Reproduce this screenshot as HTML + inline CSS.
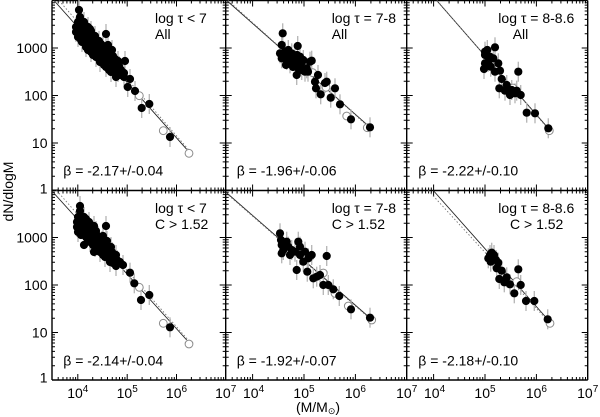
<!DOCTYPE html>
<html><head><meta charset="utf-8"><style>
html,body{margin:0;padding:0;background:#fff;}
body{width:600px;height:417px;overflow:hidden;}
svg{display:block;font-family:"Liberation Sans",Arial,sans-serif;}
</style></head><body>
<svg width="600" height="417" viewBox="0 0 600 417" xmlns="http://www.w3.org/2000/svg">
<defs>
<marker id="d" markerWidth="10" markerHeight="10" refX="5" refY="5" markerUnits="userSpaceOnUse"><circle cx="5" cy="5" r="4.1" fill="#000"/></marker>
<marker id="o" markerWidth="12" markerHeight="12" refX="6" refY="6" markerUnits="userSpaceOnUse"><circle cx="6" cy="6" r="3.9" fill="#fff" stroke="#8a8a8a" stroke-width="1"/></marker>
<marker id="e" markerWidth="4" markerHeight="26" refX="2" refY="13" markerUnits="userSpaceOnUse"><line x1="2" y1="3" x2="2" y2="23" stroke="#b4b4b4" stroke-width="1.3"/></marker>
<g id="yl"><path fill="none" stroke="#000" stroke-width="1" d="M0 0.5h6M0 48h6M0 95.5h6M0 143h6M0 190.5h6M0 2.7h3M0 5.1h3M0 7.9h3M0 11h3M0 14.8h3M0 19.4h3M0 25.3h3M0 33.7h3M0 50.2h3M0 52.6h3M0 55.4h3M0 58.5h3M0 62.3h3M0 66.9h3M0 72.8h3M0 81.2h3M0 97.7h3M0 100.1h3M0 102.9h3M0 106h3M0 109.8h3M0 114.4h3M0 120.3h3M0 128.7h3M0 145.2h3M0 147.6h3M0 150.4h3M0 153.5h3M0 157.3h3M0 161.9h3M0 167.8h3M0 176.2h3"/></g>
<g id="xa"><path fill="none" stroke="#000" stroke-width="1" d="M25.8 0v-6M75.2 0v-6M124.5 0v-6M6.2 0v-3M11 0v-3M14.9 0v-3M18.2 0v-3M21.1 0v-3M23.6 0v-3M40.7 0v-3M49.3 0v-3M55.5 0v-3M60.3 0v-3M64.2 0v-3M67.5 0v-3M70.4 0v-3M72.9 0v-3M90.1 0v-3M98.7 0v-3M104.9 0v-3M109.7 0v-3M113.6 0v-3M116.9 0v-3M119.8 0v-3M122.3 0v-3M139.4 0v-3M148 0v-3M154.2 0v-3M159 0v-3M162.9 0v-3M166.2 0v-3M169.1 0v-3M171.6 0v-3"/></g>
<g id="xb"><path fill="none" stroke="#000" stroke-width="1" d="M26.9 0v-6M78.3 0v-6M129.7 0v-6M6.5 0v-3M11.4 0v-3M15.5 0v-3M18.9 0v-3M21.9 0v-3M24.6 0v-3M42.4 0v-3M51.4 0v-3M57.9 0v-3M62.8 0v-3M66.9 0v-3M70.3 0v-3M73.3 0v-3M76 0v-3M93.8 0v-3M102.8 0v-3M109.3 0v-3M114.2 0v-3M118.3 0v-3M121.7 0v-3M124.7 0v-3M127.4 0v-3M145.2 0v-3M154.2 0v-3M160.7 0v-3M165.6 0v-3M169.7 0v-3M173.1 0v-3M176.1 0v-3M178.8 0v-3"/></g>
</defs>

<!-- frames -->
<g fill="none" stroke="#000" stroke-width="1.4">
<path d="M52 0.5H587.7M52 190.5H587.7M52 380H587.7M52 0.5V380M225.7 0.5V380M406.7 0.5V380M587.7 0.5V380"/>
</g>

<!-- y ticks -->
<use href="#yl" transform="translate(52,0)"/>
<use href="#yl" transform="translate(52,189.5)"/>
<use href="#yl" transform="translate(225.7,0) scale(-1,1)"/>
<use href="#yl" transform="translate(225.7,189.5) scale(-1,1)"/>
<use href="#yl" transform="translate(225.7,0)"/>
<use href="#yl" transform="translate(225.7,189.5)"/>
<use href="#yl" transform="translate(406.7,0) scale(-1,1)"/>
<use href="#yl" transform="translate(406.7,189.5) scale(-1,1)"/>
<use href="#yl" transform="translate(406.7,0)"/>
<use href="#yl" transform="translate(406.7,189.5)"/>
<use href="#yl" transform="translate(587.7,0) scale(-1,1)"/>
<use href="#yl" transform="translate(587.7,189.5) scale(-1,1)"/>

<!-- x ticks -->
<use href="#xa" transform="translate(52,380)"/>
<use href="#xa" transform="translate(52,190.5)"/>
<use href="#xa" transform="translate(52,190.5) scale(1,-1)"/>
<use href="#xa" transform="translate(52,0.5) scale(1,-1)"/>
<use href="#xb" transform="translate(225.7,380)"/>
<use href="#xb" transform="translate(225.7,190.5)"/>
<use href="#xb" transform="translate(225.7,190.5) scale(1,-1)"/>
<use href="#xb" transform="translate(225.7,0.5) scale(1,-1)"/>
<use href="#xb" transform="translate(406.7,380)"/>
<use href="#xb" transform="translate(406.7,190.5)"/>
<use href="#xb" transform="translate(406.7,190.5) scale(1,-1)"/>
<use href="#xb" transform="translate(406.7,0.5) scale(1,-1)"/>

<!-- fit lines -->
<g fill="none" stroke="#222" stroke-width="0.9">
<path d="M54 0.5L186.7 149.3M226.7 0.5L370 127.3M436.7 0.5L548.3 128.3M51.5 190.5L186.7 340M225.7 192L370 318M433.3 190.5L548.3 320"/>
</g>
<g fill="none" stroke="#777" stroke-width="0.9" stroke-dasharray="1.5 2">
<path d="M59 0.5L191.7 153.3M228 0.5L372 130M437 0.5L550 131M56.6 190.5L191.7 344M226 193L372 320.5M428.3 190.5L550 323.3"/>
</g>

<!-- error bars -->
<g fill="none" stroke="none" marker-start="url(#e)" marker-mid="url(#e)" marker-end="url(#e)">
<path d="M79 10L80 17L78 22L84 22L76 27L82 27L88 27L76 32L81 32L86 32L91 31L78 37L84 37L90 37L95 36L106 34L82 42L88 42L94 42L99 41L86 47L92 47L98 47L103 46L108 45L91 52L97 52L102 52L107 51L112 50L96 57L102 57L108 57L113 56L100 62L106 62L112 62L118 61L125 61L106 67L113 67L119 66L111 72L118 72L124 73L116 77L124 77L130 79L127.7 87L135 91L141.7 108L149.3 104L170 137"/>
<path d="M282.7 33.3L281.7 45L297.7 46L280 53.3L285 51.7L288.3 50L291.7 53.3L295 58.3L300 56.7L303.3 60L281.7 58.3L286.7 60L290 63.3L296.7 63.3L300 65L301.7 70L305 71.7L306.7 68.3L291.7 55L283.3 55L310 61.7L311.7 60.7L296.7 75L308 71.7L315 81.7L318 75L325 83L326.7 81.7L316 88.3L320.7 94.3L335 88.3L330.7 97.7L340 104.3L351 119.3L370 127.3"/>
<path d="M485 51.7L487.3 50L495 47.3L485 55L490 56.7L493.3 58.3L488.3 61.7L485 63.3L498.3 63.3L484 69L490.7 66.7L495 71.7L500 70.7L501.7 79L518.3 71.7L506.7 85L499.3 88.3L505 90.7L511.7 90L510 95L515 93.3L516.7 90.7L520.7 95L526.7 112.7L535 113.3L548.3 128.3"/>
<path d="M80 206L80 211L78 217L84 217L77 222L83 222L89 222L77 227L82 227L88 227L94 226L106 226L78 232L84 232L90 232L96 231L86 237L92 237L98 236L103 236L90 242L96 242L102 241L107 241L95 247L101 247L107 246L111 247L100 252L106 252L112 252L116 255L105 257L111 257L117 260L110 262L116 266L123 265L130 272.7L134.3 283.3L141 300L149.3 295L170 327.3"/>
<path d="M280 233.3L281 240L286.7 241.7L281.7 245L288.3 246.7L283.3 250L291.7 250L281.7 253.3L295 251.7L298.3 241.7L300 246.7L305 251.7L290 255L300 255L303.3 261.7L308.3 258.3L311.7 255L326.7 256L296.7 270L307.3 271.7L313.3 278.3L316.7 276.7L320 275L323.3 285L328.3 285L333.3 289.3L339.3 296L351 309.3L370 317.7"/>
<path d="M491.7 252.7L490 255L494 255L488.3 258.3L492.7 258.3L496 260L490.7 261.7L498.3 262.7L496.7 268.3L501.7 270.7L518.3 269.3L506.7 277.3L499.3 279L504.3 282.3L510 284.3L520.7 285L514.3 293.3L526 301L534.3 301L547.7 319.3"/>
</g>

<!-- open circles -->
<g fill="none" stroke="none" marker-start="url(#o)" marker-mid="url(#o)" marker-end="url(#o)">
<path d="M139.3 95.7L163.3 130.7L189 153.3"/>
<path d="M312.7 72.7L326 87.3L346.7 116L367.3 127.7"/>
<path d="M513 88L549.3 130.7"/>
<path d="M139.3 287.3L163.3 323.3L189 344"/>
<path d="M310 256.7L323.3 273L335 293.3L348.3 306L371.7 320"/>
<path d="M516.7 281.7L550 323.3"/>
</g>

<!-- filled points -->
<g fill="none" stroke="none" marker-start="url(#d)" marker-mid="url(#d)" marker-end="url(#d)">
<path d="M79 10L80 17L78 22L84 22L76 27L82 27L88 27L76 32L81 32L86 32L91 31L78 37L84 37L90 37L95 36L106 34L82 42L88 42L94 42L99 41L86 47L92 47L98 47L103 46L108 45L91 52L97 52L102 52L107 51L112 50L96 57L102 57L108 57L113 56L100 62L106 62L112 62L118 61L125 61L106 67L113 67L119 66L111 72L118 72L124 73L116 77L124 77L130 79L127.7 87L135 91L141.7 108L149.3 104L170 137"/>
<path d="M79 25L85 30L80 35L87 40L79 29L84 34L89 34L92 44L95 39L97 50L101 44L101 55L105 49L105 59L110 55L110 60L115 59L115 64L109 70L121 70L120 75L88 50L93 55L99 59L104 65L85 25L90 29L81 40"/>
<path d="M282.7 33.3L281.7 45L297.7 46L280 53.3L285 51.7L288.3 50L291.7 53.3L295 58.3L300 56.7L303.3 60L281.7 58.3L286.7 60L290 63.3L296.7 63.3L300 65L301.7 70L305 71.7L306.7 68.3L291.7 55L283.3 55L310 61.7L311.7 60.7L296.7 75L308 71.7L315 81.7L318 75L325 83L326.7 81.7L316 88.3L320.7 94.3L335 88.3L330.7 97.7L340 104.3L351 119.3L370 127.3"/>
<path d="M284 57L288 55L293 60L297 55L302 62L286 65L293 67L298 68"/>
<path d="M485 51.7L487.3 50L495 47.3L485 55L490 56.7L493.3 58.3L488.3 61.7L485 63.3L498.3 63.3L484 69L490.7 66.7L495 71.7L500 70.7L501.7 79L518.3 71.7L506.7 85L499.3 88.3L505 90.7L511.7 90L510 95L515 93.3L516.7 90.7L520.7 95L526.7 112.7L535 113.3L548.3 128.3"/>
<path d="M80 206L80 211L78 217L84 217L77 222L83 222L89 222L77 227L82 227L88 227L94 226L106 226L78 232L84 232L90 232L96 231L86 237L92 237L98 236L103 236L90 242L96 242L102 241L107 241L95 247L101 247L107 246L111 247L100 252L106 252L112 252L116 255L105 257L111 257L117 260L110 262L116 266L123 265L130 272.7L134.3 283.3L141 300L149.3 295L170 327.3"/>
<path d="M80 219L85 224L80 230L86 230L92 229L81 235L88 240L95 239L100 239L93 245L99 244L104 244L98 250L104 249L109 250L103 255L108 255L114 258L113 263L120 262L86 219L91 225L84 245L94 252"/>
<path d="M280 233.3L281 240L286.7 241.7L281.7 245L288.3 246.7L283.3 250L291.7 250L281.7 253.3L295 251.7L298.3 241.7L300 246.7L305 251.7L290 255L300 255L303.3 261.7L308.3 258.3L311.7 255L326.7 256L296.7 270L307.3 271.7L313.3 278.3L316.7 276.7L320 275L323.3 285L328.3 285L333.3 289.3L339.3 296L351 309.3L370 317.7"/>
<path d="M491.7 252.7L490 255L494 255L488.3 258.3L492.7 258.3L496 260L490.7 261.7L498.3 262.7L496.7 268.3L501.7 270.7L518.3 269.3L506.7 277.3L499.3 279L504.3 282.3L510 284.3L520.7 285L514.3 293.3L526 301L534.3 301L547.7 319.3"/>
</g>

<!-- y tick labels -->
<g font-size="14" fill="#000" text-anchor="end">
<text x="47.5" y="53">1000</text>
<text x="47.5" y="100.5">100</text>
<text x="47.5" y="148">10</text>
<text x="47.5" y="193.5">1</text>
<text x="47.5" y="242.5">1000</text>
<text x="47.5" y="290">100</text>
<text x="47.5" y="337.5">10</text>
<text x="47.5" y="382.5">1</text>
</g>

<!-- x tick labels -->
<g font-size="14" fill="#000" text-anchor="middle">
<text x="77.8" y="398">10<tspan font-size="10" dy="-6">4</tspan></text>
<text x="127.2" y="398">10<tspan font-size="10" dy="-6">5</tspan></text>
<text x="176.5" y="398">10<tspan font-size="10" dy="-6">6</tspan></text>
<text x="225.7" y="398">10<tspan font-size="10" dy="-6">7</tspan></text>
<text x="253.6" y="398">10<tspan font-size="10" dy="-6">4</tspan></text>
<text x="304" y="398">10<tspan font-size="10" dy="-6">5</tspan></text>
<text x="355.4" y="398">10<tspan font-size="10" dy="-6">6</tspan></text>
<text x="406.7" y="398">10<tspan font-size="10" dy="-6">7</tspan></text>
<text x="434.6" y="398">10<tspan font-size="10" dy="-6">4</tspan></text>
<text x="485" y="398">10<tspan font-size="10" dy="-6">5</tspan></text>
<text x="536.4" y="398">10<tspan font-size="10" dy="-6">6</tspan></text>
<text x="587.7" y="398">10<tspan font-size="10" dy="-6">7</tspan></text>
</g>

<!-- axis titles -->
<text x="318" y="412" font-size="14" text-anchor="middle">(M/M<tspan font-size="9" dy="2">⊙</tspan><tspan dy="-2">)</tspan></text>
<text transform="translate(13,191.5) rotate(-90)" font-size="14" text-anchor="middle">dN/dlogM</text>

<!-- panel annotations -->
<g font-size="14" fill="#000">
<text x="155" y="23">log τ &lt; 7</text>
<text x="155" y="39">All</text>
<text x="331.7" y="23">log τ = 7-8</text>
<text x="331.7" y="39">All</text>
<text x="498.3" y="23">log τ = 8-8.6</text>
<text x="512.7" y="39">All</text>
<text x="155" y="213">log τ &lt; 7</text>
<text x="155" y="229">C &gt; 1.52</text>
<text x="331.7" y="213">log τ = 7-8</text>
<text x="331.7" y="229">C &gt; 1.52</text>
<text x="498.3" y="213">log τ = 8-8.6</text>
<text x="510" y="229">C &gt; 1.52</text>
<text x="63.3" y="175.5">β = -2.17+/-0.04</text>
<text x="236.7" y="175.5">β = -1.96+/-0.06</text>
<text x="418.3" y="175.5">β = -2.22+/-0.10</text>
<text x="63.3" y="365.5">β = -2.14+/-0.04</text>
<text x="236.7" y="365.5">β = -1.92+/-0.07</text>
<text x="418.3" y="365.5">β = -2.18+/-0.10</text>
</g>
</svg>
</body></html>
